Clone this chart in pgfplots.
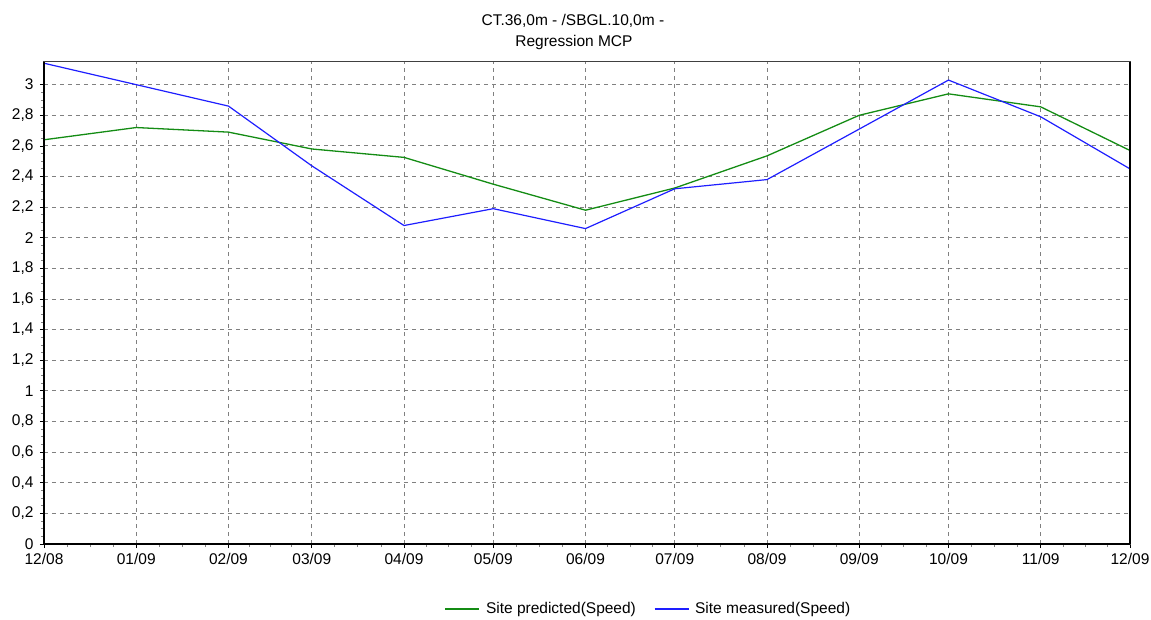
\documentclass[border=0pt]{standalone}
\usepackage{pgfplots}
\pgfplotsset{compat=1.18}
\usepackage{fontspec}
\setmainfont{Liberation Sans}

\definecolor{predgreen}{RGB}{20,140,20}
\definecolor{measblue}{RGB}{30,30,255}
\definecolor{gridgray}{RGB}{128,128,128}

\begin{document}
\begin{tikzpicture}
\useasboundingbox (-44pt,-75pt) rectangle (1107pt,544pt);
\begin{axis}[
  at={(0,0)}, anchor=south west,
  scale only axis,
  width=1086pt, height=482pt,
  xmin=0, xmax=365,
  ymin=0, ymax=3.148,
  clip=false,
  font=\fontsize{15.5}{18}\selectfont,
  xtick={0,31,62,90,121,151,182,212,243,274,304,335,365},
  xticklabels={12/08,01/09,02/09,03/09,04/09,05/09,06/09,07/09,08/09,09/09,10/09,11/09,12/09},
  minor xtick={7.75,15.5,23.25,38.75,46.5,54.25,69,76,83,97.75,105.5,113.25,
               128.5,136,143.5,158.75,166.5,174.25,189.5,197,204.5,219.75,227.5,235.25,
               250.75,258.5,266.25,281.5,289,296.5,311.75,319.5,327.25,342.5,350,357.5},
  ytick={0,0.2,...,3.01},
  minor y tick num=3,
  tick align=outside,
  major tick length=4pt,
  minor tick length=3pt,
  tick style={black, line width=0.8pt},
  minor tick style={gridgray, line width=0.8pt},
  xtick pos=bottom, ytick pos=left,
  yticklabel style={xshift=-3pt, /pgf/number format/.cd, fixed, precision=1, use comma, assume math mode=true},
  xticklabel style={yshift=-2pt},
  xmajorgrids, ymajorgrids,
  major grid style={gridgray, line width=0.9pt, dash pattern=on 4pt off 4pt},
  axis line style={draw=black!75, line width=1pt},
  legend columns=2,
  legend style={draw=none, fill=none, at={(0.5566,0)}, anchor=center, yshift=-65pt,
    font=\fontsize{15.5}{18}\selectfont,
    /tikz/every odd column/.append style={column sep=4pt},
    /tikz/every even column/.append style={column sep=16pt}},
  legend image code/.code={\draw[#1] (0pt,0pt) -- (34pt,0pt);},
]
% Site predicted wind speed, monthly
\addplot[predgreen, line width=1.3pt] coordinates {
  (0,2.64) (31,2.72) (62,2.69) (90,2.58) (121,2.525) (151,2.35) (182,2.18)
  (212,2.325) (243,2.535) (274,2.80) (304,2.94) (335,2.855) (365,2.57)
};
\addlegendentry{Site predicted(Speed)}
% Site measured wind speed, monthly
\addplot[measblue, line width=1.2pt] coordinates {
  (0,3.14) (31,3.00) (62,2.86) (90,2.47) (121,2.08) (151,2.19) (182,2.06)
  (212,2.32) (243,2.38) (274,2.71) (304,3.03) (335,2.79) (365,2.45)
};
\addlegendentry{Site measured(Speed)}
% heavy left and bottom axis lines
\draw[black, line width=2.2pt] (rel axis cs:0,1) -- (rel axis cs:0,0) -- (rel axis cs:1,0);
\draw[black, line width=1.2pt] (rel axis cs:1,0) -- (rel axis cs:1,1);
% two-line heading
\node[anchor=base] at (rel axis cs:0.487,1) [yshift=36pt] {CT.36,0m - /SBGL.10,0m -};
\node[anchor=base] at (rel axis cs:0.488,1) [yshift=15pt] {Regression MCP};
\end{axis}
\end{tikzpicture}
\end{document}
